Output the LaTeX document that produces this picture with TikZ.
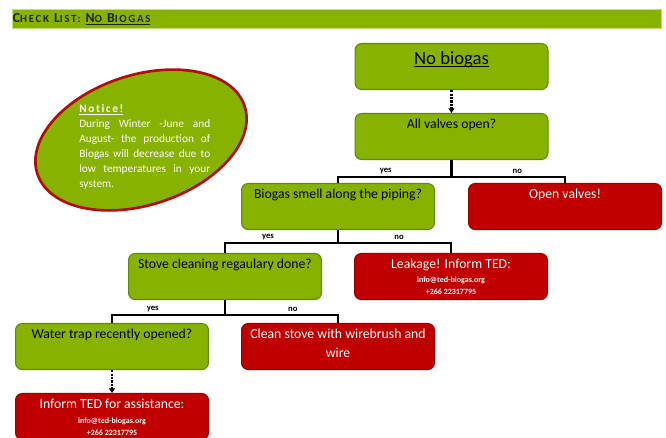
\documentclass[tikz,border=0pt]{standalone}
\usepackage{fontspec}
\setmainfont{Carlito}
\usetikzlibrary{arrows.meta}

\definecolor{boxgreen}{RGB}{136,178,0}
\definecolor{boxgreenline}{RGB}{100,134,12}
\definecolor{boxred}{RGB}{192,0,0}
\definecolor{boxredline}{RGB}{150,0,0}
\definecolor{barline}{RGB}{192,224,120}
\definecolor{titlecol}{RGB}{26,38,0}
\definecolor{noticeline}{RGB}{178,12,12}

\newcommand{\capbig}[1]{{\fontsize{10.3}{11}\selectfont #1}}
\newcommand{\capsmall}[1]{{\fontsize{8.2}{11}\selectfont #1}}
\newcommand{\contact}{\fontsize{6}{8}\selectfont\bfseries}
\newcommand{\lowline}[1]{\underline{\raisebox{0pt}[\height][0pt]{#1}}}

\tikzset{
	gbox/.style={draw=boxgreenline, fill=boxgreen, line width=0.8pt, rounded corners=5pt,
		minimum width=144.7pt, minimum height=34.5pt, inner sep=0pt},
	rbox/.style={gbox, draw=boxredline, fill=boxred},
	btxt/.style={anchor=north, yshift=-4.5pt, inner sep=0pt, align=center,
		font=\fontsize{10.3}{14.25}\selectfont},
	wtxt/.style={btxt, text=white},
	conn/.style={line width=2pt},
	dots/.style={densely dotted, line width=1.6pt, -{Triangle[length=3.5pt,width=4.5pt]}},
	yn/.style={above, inner sep=1.5pt, font=\fontsize{6.5}{7}\selectfont\bfseries}
}

\begin{document}
\begin{tikzpicture}[x=0.75pt, y=0.75pt]
	\useasboundingbox (0,0) rectangle (666,-437);

	% header
	\node[fill=boxgreen, draw=barline, line width=0.6pt, minimum width=486.7pt, minimum height=14.5pt, inner sep=0pt] (bar) at (336.5,-19) {};
	\node[anchor=west, inner sep=0pt, text=titlecol, font=\bfseries\addfontfeature{LetterSpace=15}] (title) at ([xshift=0.8pt]bar.west)
		{\capbig{C}\capsmall{HECK} \capbig{L}\capsmall{IST:} \lowline{\capbig{N}\capsmall{O} \capbig{B}\capsmall{IOGAS}}};

	% notice
	\draw[draw=noticeline, fill=boxgreen, line width=2pt, rotate around={18:(141,-140)}] (141,-140) ellipse [x radius=109, y radius=65];
	\node[anchor=north west, inner sep=0pt, text width=98.25pt, align=justify, text=white,
		font=\fontsize{8.5}{11.25}\selectfont] (noticetxt) at (79,-104)
		{\hyphenpenalty=10000 \exhyphenpenalty=10000
		\textbf{\lowline{N\kern1.2pt o\kern1.2pt t\kern1.2pt i\kern1.2pt c\kern1.2pt e\kern1.2pt !}}\\
		During Winter -June and August- the production of Biogas will decrease due to low temperatures in your system.};

	% boxes
	\node[gbox] (start) at (451.5,-66.5) {};
	\node[btxt, yshift=-2pt, font=\fontsize{14}{16}\selectfont] (start-t) at (start.north) {\lowline{No biogas}};
	\node[gbox] (valves) at (451.5,-136.5) {};
	\node[btxt] (valves-t) at (valves.north) {All valves open?};

	\node[gbox] (smell) at (338,-206.5) {};
	\node[btxt] (smell-t) at (smell.north) {Biogas smell along the piping?};
	\node[rbox] (open) at (565,-206.5) {};
	\node[wtxt] (open-t) at (open.north) {Open valves!};

	\node[gbox] (stove) at (225,-276.5) {};
	\node[btxt] (stove-t) at (stove.north) {Stove cleaning regaulary done?};
	\node[rbox] (leak) at (451,-276.5) {};
	\node[wtxt] (leak-t) at (leak.north) {Leakage! Inform TED:\\[-4pt] \contact info@ted-biogas.org\\[-5.5pt] \contact +266 22317795};

	\node[gbox] (trap) at (112,-346.5) {};
	\node[btxt] (trap-t) at (trap.north) {Water trap recently opened?};
	\node[rbox] (clean) at (338,-346.5) {};
	\node[wtxt] (clean-t) at (clean.north) {Clean stove with wirebrush and\\ wire};

	\node[rbox] (inform) at (112,-416.5) {};
	\node[wtxt] (inform-t) at (inform.north) {Inform TED for assistance:\\[-3pt] \contact info@ted-biogas.org\\[-5.5pt] \contact +266 22317795};

	% connectors
	\draw[dots] (start) -- (valves);
	\draw[conn] (valves.south) -- ++(0,-17) coordinate (j1);
	\draw[conn] (smell.north) |- (j1) node[yn, pos=0.71] (yes1) {yes} -| (open.north) node[yn, pos=0.29] (no1) {no};
	\draw[conn] (smell.south) -- ++(0,-13) coordinate (j2);
	\draw[conn] (stove.north) |- (j2) node[yn, pos=0.69] (yes2) {yes} -| (leak.north) node[yn, pos=0.27] (no2) {no};
	\draw[conn] (stove.south) -- ++(0,-15) coordinate (j3);
	\draw[conn] (trap.north) |- (j3) node[yn, pos=0.68] (yes3) {yes} -| (clean.north) node[yn, pos=0.30] (no3) {no};
	\draw[dots] (trap) -- (inform);
\end{tikzpicture}
\end{document}
